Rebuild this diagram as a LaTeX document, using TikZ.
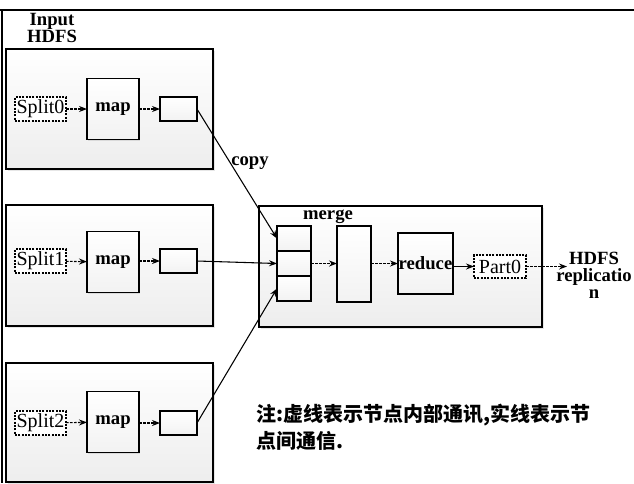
\documentclass[tikz,border=0pt]{standalone}
\usepackage{fontspec}
\setmainfont{Liberation Serif}
\newfontfamily\cjk{Noto Sans CJK SC}
\usetikzlibrary{arrows.meta,shadows}
\begin{document}
\begin{tikzpicture}[x=0.75pt,y=-0.75pt,
  every node/.style={inner sep=0pt,outer sep=0pt},
  lbl/.style={font=\fontsize{14}{14}\selectfont\bfseries},
  txt/.style={font=\fontsize{15}{15}\selectfont},
  bigbox/.style={draw,line width=1.1pt,top color=white,bottom color=gray!14,
    drop shadow={opacity=0.2,shadow xshift=1.2pt,shadow yshift=-1.2pt}},
  inbox/.style={draw,line width=1.1pt,top color=white,bottom color=gray!10,
    drop shadow={opacity=0.2,shadow xshift=1pt,shadow yshift=-1pt}},
  dbox/.style={draw,dash pattern=on 1.5pt off 1pt,line width=0.8pt,fill=white,txt,
    minimum width=38.25pt,minimum height=18pt},
  arr/.style={-{Stealth[length=6pt,width=4.5pt]},line width=0.8pt},
  darr/.style={arr,dash pattern=on 2pt off 1pt}]
\useasboundingbox (0,0) rectangle (634,483);
% outer frame fragments
\draw[line width=0.8pt] (0,10) -- (634,10);
\draw[line width=0.8pt] (2,10) -- (2,483);

% left big boxes
\node[bigbox,minimum width=155.25pt,minimum height=90pt] (b0) at (109.5,109) {};
\node[bigbox,minimum width=155.25pt,minimum height=90.75pt] (b1) at (109.5,265.5) {};
\node[bigbox,minimum width=155.25pt,minimum height=89.25pt] (b2) at (109.5,422.5) {};
\node[lbl,align=center,font=\fontsize{14}{12.5}\selectfont\bfseries] (inp) at (52,28) {Input\\HDFS};

% rows
\foreach \i/\y/\my in {0/109/109,1/261/262,2/423/422}{
  \node[dbox] (s\i) at (40.5,\y) {Split\i};
  \node[inbox,lbl,minimum width=39pt,minimum height=45.75pt] (m\i) at (113,\my) {map};
  \node[inbox,minimum width=27.75pt,minimum height=18pt] (o\i) at (178.5,\y) {};
  \draw[darr] (s\i) -- (m\i);
  \draw[darr] (m\i.east |- o\i.west) -- (o\i.west);
}

% merge box
\node[bigbox,minimum width=212.25pt,minimum height=90.75pt] (mg) at (400.5,266.5) {};
\node[lbl] (mgl) at (328,217) {merge};
\node[inbox,minimum width=25.5pt,minimum height=18.75pt] (c1) at (294,238.5) {};
\node[inbox,minimum width=25.5pt,minimum height=18.75pt] (c2) at (294,263.5) {};
\node[inbox,minimum width=25.5pt,minimum height=18.75pt] (c3) at (294,288.5) {};
\node[inbox,minimum width=25.5pt,minimum height=57pt] (tall) at (354,264) {};
\node[inbox,lbl,minimum width=41.25pt,minimum height=45.75pt] (red) at (425.5,263.5) {reduce};
\node[dbox,minimum width=39pt,minimum height=17.25pt] (p0) at (500,266.5) {Part0};
\node[lbl,align=center,font=\fontsize{14}{12.8}\selectfont\bfseries] (hdfs) at (594,275) {HDFS\\replicatio\\n};
\coordinate (hd) at (567,266.5);

% connectors
\draw[arr] (o0.east) -- (c1.west);
\draw[arr] (o1.east) -- (c2.west);
\draw[arr] (o2.east) -- (c3.west);
\node[lbl] (cp) at (250,163) {copy};
\draw[darr] (c2.east) -- (c2.east -| tall.west);
\draw[darr] (tall.east |- red.west) -- (red.west);
\draw[arr] (red.east |- p0.west) -- (p0.west);
\draw[darr] (p0.east) -- (hd);

% note
\node[anchor=north west,align=left,font=\cjk\bfseries\fontsize{15}{20.5}\selectfont] (note) at (256,404)
  {注:虚线表示节点内部通讯,实线表示节\\点间通信.};
\end{tikzpicture}
\end{document}
